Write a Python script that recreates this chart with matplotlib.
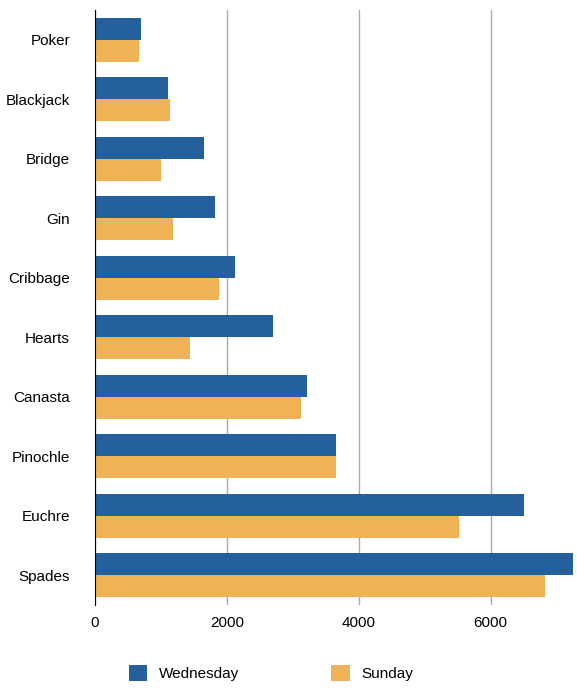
import matplotlib
matplotlib.use("Agg")
import matplotlib.pyplot as plt
import numpy as np

categories = ["Poker","Blackjack","Bridge","Gin","Cribbage","Hearts","Canasta","Pinochle","Euchre","Spades"]
wednesday = [700,1100,1650,1820,2120,2700,3210,3650,6500,7300]
sunday = [670,1135,1000,1180,1880,1440,3120,3650,5515,6820]

plt.rcParams['font.family'] = ['Liberation Sans','DejaVu Sans']
fig = plt.figure(figsize=(5.77,6.95), dpi=100)
ax = fig.add_axes([95/577, 90/695, 478/577, 595/695])
y = np.arange(len(categories))
h = 0.37
ax.barh(y - h/2, wednesday, height=h, color="#245f9e", label="Wednesday", zorder=3)
ax.barh(y + h/2, sunday, height=h, color="#efb356", label="Sunday", zorder=3)
ax.set_yticks(y)
ax.set_yticklabels(categories, fontsize=11)
ax.set_ylim(len(categories)-0.5, -0.5)
ax.set_xlim(0, 7250)
ax.set_xticks([0,2000,4000,6000])
ax.tick_params(axis='x', labelsize=11, length=0, pad=8)
ax.tick_params(axis='y', length=0, pad=18)
ax.grid(axis='x', color='#aaaaaa', linewidth=1, zorder=0)
for s in ['top','right','bottom']:
    ax.spines[s].set_visible(False)
ax.spines['left'].set_color('black')
ax.spines['left'].set_zorder(4)
fig.legend(loc='lower center', bbox_to_anchor=(0.47, 0.0), ncol=2, frameon=False,
           fontsize=11, handlelength=1.2, handleheight=1.2, columnspacing=6)
fig.savefig("out.png", dpi=100, facecolor='white')
